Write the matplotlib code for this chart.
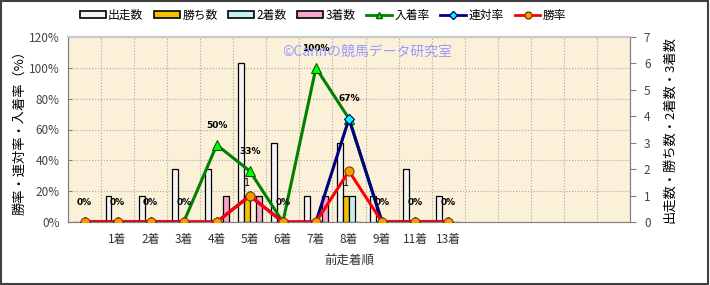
import numpy as np
import matplotlib.pyplot as plt
from matplotlib.patches import Patch
from matplotlib.lines import Line2D

plt.rcParams['font.family'] = ['Noto Sans CJK JP', 'DejaVu Sans']

# data
cats = ['', '1着', '2着', '3着', '4着', '5着', '6着', '7着', '8着', '9着', '11着', '13着',
        '', '', '', '', '']
starts = [0, 1, 1, 2, 2, 6, 3, 1, 3, 1, 2, 1]
wins = [0, 0, 0, 0, 0, 1, 0, 0, 1, 0, 0, 0]
seconds = [0, 0, 0, 0, 0, 0, 0, 0, 1, 0, 0, 0]
thirds = [0, 0, 0, 0, 1, 1, 0, 1, 0, 0, 0, 0]
place_rate = [0, 0, 0, 0, 50, 33, 0, 100, 67, 0, 0, 0]   # 入着率
quinella_rate = [0, 0, 0, 0, 0, 17, 0, 0, 67, 0, 0, 0]  # 連対率
win_rate = [0, 0, 0, 0, 0, 17, 0, 0, 33, 0, 0, 0]       # 勝率

bar_names = ['出走数', '勝ち数', '2着数', '3着数']
bar_colors = ['#F4F4F4', '#F2C200', '#C4F0F4', '#F4A6CC']

fig = plt.figure(figsize=(7.1, 2.85), dpi=100)
fig.patch.set_facecolor('white')
ax = fig.add_axes([68 / 710, 1 - 222 / 285, 562 / 710, 185 / 285])
ax2 = ax.twinx()

n = len(starts)
x = np.arange(n)
w = 0.17
offs = [-0.27, -0.09, 0.09, 0.27]

# bars (counts) on ax, shown on the right side
ax.set_facecolor('#FBF0D8')
for vals, off, col in zip([starts, wins, seconds, thirds], offs, bar_colors):
    ax.bar(x + off, vals, width=w, color=col, edgecolor='black', linewidth=0.9, zorder=3)
for i, v in enumerate(wins):
    if v > 0:
        ax.text(i + offs[1], v + 0.3, str(v), ha='center', va='bottom', fontsize=7,
                family='DejaVu Sans', zorder=4)

ax.set_xlim(-0.5, len(cats) - 0.5)
ax.set_ylim(0, 7)
ax.set_xticks(np.arange(len(cats)))
ax.set_xticklabels(cats, fontsize=8.5, color='#333333')
ax.set_xticks(np.arange(len(cats)) + 0.5, minor=True)
ax.set_yticks(np.arange(0, 8))
ax.set_yticks(np.arange(0, 7.01, 7 / 6), minor=True)
ax.tick_params(axis='x', which='both', length=0, pad=8)
ax.grid(which='minor', color='#A8A8A8', linestyle=':', linewidth=0.8, zorder=0)
ax.yaxis.tick_right()
ax.yaxis.set_label_position('right')
ax.tick_params(axis='y', which='major', labelsize=8.5, labelcolor='#444444',
               length=4, color='#808080', pad=6)
ax.tick_params(axis='y', which='minor', length=0)
ax.set_axisbelow(True)

# lines (rates) on ax2, shown on the left side
xl = np.arange(len(place_rate))
ax2.plot(xl, place_rate, color='#008000', lw=2.2, marker='^', ms=7,
         mfc='#00FF00', mec='#006000', mew=0.8, zorder=5)
ax2.plot(xl, quinella_rate, color='#000080', lw=2.2, marker='D', ms=5,
         mfc='#00FFFF', mec='#000080', mew=0.8, zorder=6)
ax2.plot(xl, win_rate, color='#FF0000', lw=2.2, marker='o', ms=6.5,
         mfc='#FF9900', mec='#804000', mew=0.8, zorder=7)
for i, v in enumerate(place_rate):
    ax2.annotate('%d%%' % v, (i, v), xytext=(0, 11), textcoords='offset points',
                 ha='center', va='bottom', fontsize=6.5, fontweight='bold',
                 family='DejaVu Sans', zorder=8)
ax2.set_ylim(0, 120)
ax2.set_yticks(np.arange(0, 121, 20))
ax2.set_yticklabels(['%d%%' % t for t in range(0, 121, 20)])
ax2.yaxis.tick_left()
ax2.yaxis.set_label_position('left')
ax2.tick_params(axis='y', labelsize=8.5, labelcolor='#444444', length=3,
                direction='in', color='#808080', pad=6)

for a in (ax, ax2):
    for s in a.spines.values():
        s.set_color('#808080')
    a.spines['top'].set_color('#C8C8C8')
    a.spines['top'].set_linewidth(1.5)

ax2.set_ylabel('勝率・連対率・入着率（%）', fontsize=9.5, labelpad=2)
ax.set_ylabel('出走数・勝ち数・2着数・3着数', fontsize=9.5, rotation=90, labelpad=9)
ax.set_xlabel('前走着順', fontsize=9, color='#333333', labelpad=6)

fig.text(282 / 710, 1 - 52 / 285, '©Cannの競馬データ研究室', color='#9A9AFF',
         fontsize=10, va='center', ha='left')

handles = [Patch(facecolor=c, edgecolor='black', linewidth=1.2) for c in bar_colors]
handles += [
    Line2D([], [], color='#008000', lw=2, marker='^', ms=5, mfc='#00FF00', mec='#006000'),
    Line2D([], [], color='#000080', lw=2, marker='D', ms=4, mfc='#00FFFF', mec='#000080'),
    Line2D([], [], color='#FF0000', lw=2, marker='o', ms=5, mfc='#FF9900', mec='#804000'),
]
labels = bar_names + ['入着率', '連対率', '勝率']
fig.legend(handles, labels, loc='center', bbox_to_anchor=(323 / 710, 1 - 15 / 285),
           ncol=7, frameon=False, fontsize=8.5, handlelength=2.2, handleheight=0.6,
           handletextpad=0.2, columnspacing=0.9)

# outer frame
fig.add_artist(plt.Rectangle((0.002, 0.004), 0.995, 0.992, transform=fig.transFigure,
                             fill=False, edgecolor='#404040', linewidth=1.5))

fig.savefig('out.png', dpi=100)
